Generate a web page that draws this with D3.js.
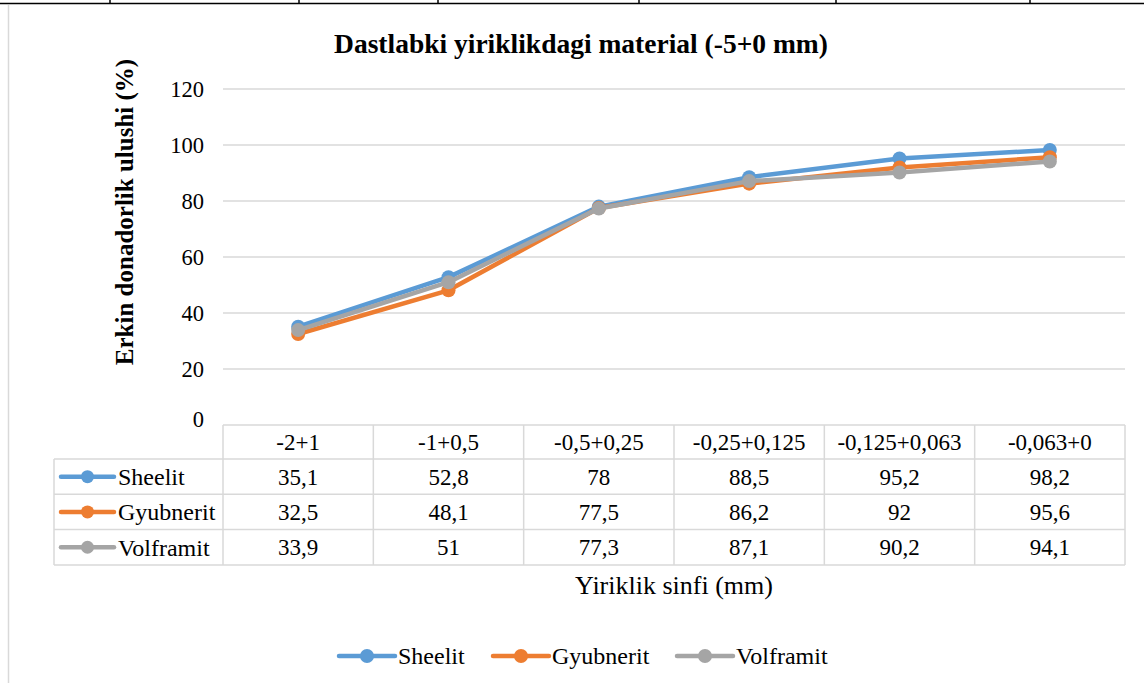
<!DOCTYPE html>
<html>
<head>
<meta charset="utf-8">
<script src="https://cdn.jsdelivr.net/npm/d3@7"></script>
<style>
  body { margin: 0; background: #fff; }
  svg { display: block; }
  svg text { font-family: "Liberation Serif", "Times New Roman", serif; fill: #000; }
</style>
</head>
<body>
<svg id="chart" width="1144" height="683"></svg>
<script>
const categories = ['-2+1', '-1+0,5', '-0,5+0,25', '-0,25+0,125', '-0,125+0,063', '-0,063+0'];
const seriesNames = ['Sheelit', 'Gyubnerit', 'Volframit'];
const sheelit = [35.1, 52.8, 78, 88.5, 95.2, 98.2];
const gyubnerit = [32.5, 48.1, 77.5, 86.2, 92, 95.6];
const volframit = [33.9, 51, 77.3, 87.1, 90.2, 94.1];
const yTicks = [0, 20, 40, 60, 80, 100, 120];
const colors = ['#5B9BD5', '#ED7D31', '#A5A5A5'];

const series = seriesNames.map((name, i) => ({ name, values: [sheelit, gyubnerit, volframit][i], color: colors[i] }));

const svg = d3.select('#chart');
const gridColor = '#d9d9d9';

// document table border on top (the chart sits in a Word table)
svg.append('line').attr('x1', 0).attr('x2', 1144).attr('y1', 3.5).attr('y2', 3.5)
    .attr('stroke', '#000').attr('stroke-width', 1.5);
[110, 299, 438, 639, 836, 1030].forEach(x => {
    svg.append('line').attr('x1', x).attr('x2', x).attr('y1', 0).attr('y2', 4)
        .attr('stroke', '#000').attr('stroke-width', 1.5);
});
// chart frame left edge
svg.append('line').attr('x1', 8.5).attr('x2', 8.5).attr('y1', 5).attr('y2', 683)
    .attr('stroke', gridColor).attr('stroke-width', 1.5);

const plot = { left: 223, right: 1125, top: 89, bottom: 425 };

const x = d3.scaleBand().domain(categories).range([plot.left, plot.right]);
const y = d3.scaleLinear().domain([0, 120]).range([plot.bottom, plot.top]);

// title
svg.append('text').attr('x', 581).attr('y', 53).attr('text-anchor', 'middle')
    .attr('font-weight', 'bold').attr('font-size', 27.5)
    .text('Dastlabki yiriklikdagi material (-5+0 mm)');

// gridlines
svg.append('g').selectAll('line').data(yTicks.filter(d => d > 0)).enter().append('line')
    .attr('x1', plot.left).attr('x2', plot.right)
    .attr('y1', d => y(d)).attr('y2', d => y(d))
    .attr('stroke', gridColor).attr('stroke-width', 1.3);

// y axis labels
const yAxis = d3.axisLeft(y).tickValues(yTicks).tickSize(0).tickPadding(0);
const yg = svg.append('g').attr('transform', `translate(${plot.left - 19},0)`).call(yAxis);
yg.attr('font-family', null).attr('font-size', null);
yg.select('.domain').remove();
yg.selectAll('text').attr('font-size', 22.5).attr('fill', '#000').attr('dy', '0.33em');
yg.selectAll('.tick').filter(d => d === 0).select('text').attr('dy', '0.05em');

// y axis title
svg.append('text').attr('transform', `translate(133,212) rotate(-90)`)
    .attr('text-anchor', 'middle').attr('font-weight', 'bold').attr('font-size', 25)
    .text('Erkin donadorlik ulushi (%)');

// data table
const headerTop = 425, headerH = 34, rowH = 35.3;
const tableLeft = 54;
const tbl = svg.append('g');
tbl.append('line').attr('x1', plot.left).attr('x2', plot.right).attr('y1', headerTop).attr('y2', headerTop)
    .attr('stroke', gridColor).attr('stroke-width', 1.5);
for (let r = 0; r <= 3; r++) {
    const yy = headerTop + headerH + r * rowH;
    tbl.append('line').attr('x1', tableLeft).attr('x2', plot.right).attr('y1', yy).attr('y2', yy)
        .attr('stroke', gridColor).attr('stroke-width', 1.5);
}
const tableBottom = headerTop + headerH + 3 * rowH;
tbl.append('line').attr('x1', tableLeft).attr('x2', tableLeft).attr('y1', headerTop + headerH).attr('y2', tableBottom)
    .attr('stroke', gridColor).attr('stroke-width', 1.5);
categories.forEach(c => {
    const xx = x(c);
    tbl.append('line').attr('x1', xx).attr('x2', xx).attr('y1', headerTop).attr('y2', tableBottom)
        .attr('stroke', gridColor).attr('stroke-width', 1.5);
});
tbl.append('line').attr('x1', plot.right).attr('x2', plot.right).attr('y1', headerTop).attr('y2', tableBottom)
    .attr('stroke', gridColor).attr('stroke-width', 1.5);

// header labels
tbl.selectAll('.hdr').data(categories).enter().append('text')
    .attr('x', d => x(d) + x.bandwidth() / 2).attr('y', headerTop + headerH / 2).attr('dy', '0.35em')
    .attr('text-anchor', 'middle').attr('font-size', 23).text(d => d);

const fmt = v => String(v).replace('.', ',');

series.forEach((s, i) => {
    const cy = headerTop + headerH + i * rowH + rowH / 2;
    // legend key inside table
    tbl.append('line').attr('x1', 61).attr('x2', 114).attr('y1', cy).attr('y2', cy)
        .attr('stroke', s.color).attr('stroke-width', 4.5).attr('stroke-linecap', 'round');
    tbl.append('circle').attr('cx', 87.5).attr('cy', cy).attr('r', 6.5).attr('fill', s.color);
    tbl.append('text').attr('x', 118).attr('y', cy).attr('dy', '0.35em').attr('font-size', 24).text(s.name);
    s.values.forEach((v, j) => {
        tbl.append('text').attr('x', x(categories[j]) + x.bandwidth() / 2).attr('y', cy).attr('dy', '0.35em')
            .attr('text-anchor', 'middle').attr('font-size', 23).text(fmt(v));
    });
});

// x axis title
svg.append('text').attr('x', 674).attr('y', 594).attr('text-anchor', 'middle').attr('font-size', 26)
    .text('Yiriklik sinfi (mm)');

// lines
const line = d3.line().x((d, i) => x(categories[i]) + x.bandwidth() / 2).y(d => y(d));
series.forEach(s => {
    const g = svg.append('g');
    g.append('path').datum(s.values).attr('d', line).attr('fill', 'none')
        .attr('stroke', s.color).attr('stroke-width', 4.5).attr('stroke-linejoin', 'round');
    g.selectAll('circle').data(s.values).enter().append('circle')
        .attr('cx', (d, i) => x(categories[i]) + x.bandwidth() / 2).attr('cy', d => y(d))
        .attr('r', 7).attr('fill', s.color);
});

// bottom legend
const legendX = [339, 493, 677];
series.forEach((s, i) => {
    const lx = legendX[i], ly = 656;
    svg.append('line').attr('x1', lx).attr('x2', lx + 56).attr('y1', ly).attr('y2', ly)
        .attr('stroke', s.color).attr('stroke-width', 4.5).attr('stroke-linecap', 'round');
    svg.append('circle').attr('cx', lx + 28).attr('cy', ly).attr('r', 7).attr('fill', s.color);
    svg.append('text').attr('x', lx + 59).attr('y', ly).attr('dy', '0.35em').attr('font-size', 24).text(s.name);
});
</script>
</body>
</html>
